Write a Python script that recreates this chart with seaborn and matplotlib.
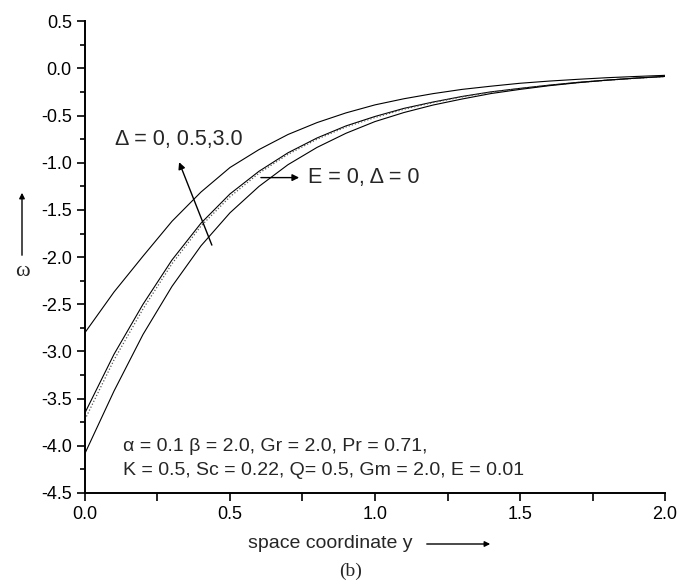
import matplotlib
matplotlib.use("Agg")
import matplotlib.pyplot as plt
import seaborn as sns
import pandas as pd
from matplotlib.ticker import MultipleLocator

# ---- data ----
y_coord = [0.0, 0.1, 0.2, 0.3, 0.4, 0.5, 0.6, 0.7, 0.8, 0.9, 1.0,
           1.1, 1.2, 1.3, 1.4, 1.5, 1.6, 1.7, 1.8, 1.9, 2.0]
omega_delta_3_0 = [-2.80, -2.37, -1.99, -1.62, -1.31, -1.05, -0.86, -0.70, -0.574, -0.471, -0.386,
                   -0.321, -0.267, -0.222, -0.188, -0.157, -0.134, -0.115, -0.098, -0.085, -0.073]
omega_delta_0_5 = [-3.65, -3.03, -2.50, -2.03, -1.64, -1.33, -1.09, -0.894, -0.737, -0.609, -0.509,
                   -0.423, -0.356, -0.297, -0.248, -0.211, -0.177, -0.147, -0.124, -0.103, -0.085]
omega_E0_delta0 = [-3.72, -3.09, -2.55, -2.07, -1.67, -1.36, -1.11, -0.91, -0.75, -0.62, -0.52,
                   -0.432, -0.362, -0.302, -0.252, -0.214, -0.179, -0.149, -0.125, -0.104, -0.086]
omega_delta_0 = [-4.08, -3.42, -2.82, -2.31, -1.88, -1.53, -1.25, -1.02, -0.837, -0.687, -0.563,
                 -0.467, -0.388, -0.324, -0.266, -0.222, -0.183, -0.151, -0.124, -0.102, -0.084]
x_ticks = [0.0, 0.5, 1.0, 1.5, 2.0]
y_ticks = [0.5, 0.0, -0.5, -1.0, -1.5, -2.0, -2.5, -3.0, -3.5, -4.0, -4.5]

sns.set_style("ticks")
plt.rcParams['font.family'] = ['Liberation Sans', 'DejaVu Sans']

fig = plt.figure(figsize=(6.96, 5.83), dpi=100)
ax = fig.add_axes([0.1221, 0.1544, 0.8334, 0.8091])

series = [
    ("Δ=3.0", omega_delta_3_0, "black", "-", 0.8),
    ("Δ=0.5", omega_delta_0_5, "black", "-", 0.8),
    ("E=0, Δ=0", omega_E0_delta0, "#555555", (0, (1, 1.6)), 0.9),
    ("Δ=0", omega_delta_0, "black", "-", 0.8),
]
for name, vals, col, ls, lw in series:
    df = pd.DataFrame({"y": y_coord, "omega": vals})
    sns.lineplot(data=df, x="y", y="omega", ax=ax, color=col, linestyle=ls,
                 linewidth=lw, legend=False)

ax.set_xlim(0, 2.0)
ax.set_ylim(-4.5, 0.5)
ax.set_xticks(x_ticks)
ax.set_yticks(y_ticks)
ax.set_xticklabels([f"{v:.1f}" for v in x_ticks])
ax.set_yticklabels([f"{v:.1f}" for v in y_ticks])
ax.xaxis.set_minor_locator(MultipleLocator(0.25))
ax.yaxis.set_minor_locator(MultipleLocator(0.25))
ax.tick_params(axis='both', which='major', labelsize=13, width=1.2, length=6, color='black', labelcolor='black')
ax.tick_params(axis='y', which='minor', width=1.2, length=3.5, color='black')
ax.tick_params(axis='x', which='minor', width=1.2, length=6, color='black')
ax.set_xlabel("")
ax.set_ylabel("")
sns.despine(ax=ax)
for s in ["left", "bottom"]:
    ax.spines[s].set_linewidth(1.4)
    ax.spines[s].set_color("black")

# annotations
ax.text(0.103, -0.755, "Δ = 0, 0.5,3.0", fontsize=15.5, ha="left", va="center")
ax.annotate("", xy=(0.321, -0.966), xytext=(0.441, -1.90),
            arrowprops=dict(arrowstyle='-|>', lw=1.0, color='black', mutation_scale=10))
ax.annotate("", xy=(0.748, -1.157), xytext=(0.597, -1.157),
            arrowprops=dict(arrowstyle='-|>', lw=1.0, color='black', mutation_scale=10))
ax.text(0.769, -1.157, "E = 0, Δ = 0", fontsize=15.5, ha="left", va="center")

ax.text(0.131, -4.01, "α = 0.1 β = 2.0, Gr = 2.0, Pr = 0.71,", fontsize=14, ha="left", va="center")
ax.text(0.131, -4.26, "K = 0.5, Sc = 0.22, Q= 0.5, Gm = 2.0, E = 0.01", fontsize=14, ha="left", va="center")

# axis labels with arrows
fig.text(0.474, 1 - 544 / 583, "space coordinate y", fontsize=14, ha="center", va="center")
fig.add_artist(matplotlib.patches.FancyArrowPatch((424 / 696, 1 - 544 / 583), (493 / 696, 1 - 544 / 583),
               transform=fig.transFigure, arrowstyle='-|>', lw=1.0, color='black', mutation_scale=8))
fig.text(351 / 696, 1 - 571 / 583, "(b)", fontsize=14, ha="center", va="center", family="Liberation Serif")
fig.text(22 / 696, 1 - 272 / 583, "ω", fontsize=16, ha="center", va="center", family="Liberation Serif")
fig.add_artist(matplotlib.patches.FancyArrowPatch((22 / 696, 1 - 258 / 583), (22 / 696, 1 - 190 / 583),
               transform=fig.transFigure, arrowstyle='-|>', lw=1.0, color='black', mutation_scale=8))

fig.savefig("out.png", dpi=100, facecolor="white")
